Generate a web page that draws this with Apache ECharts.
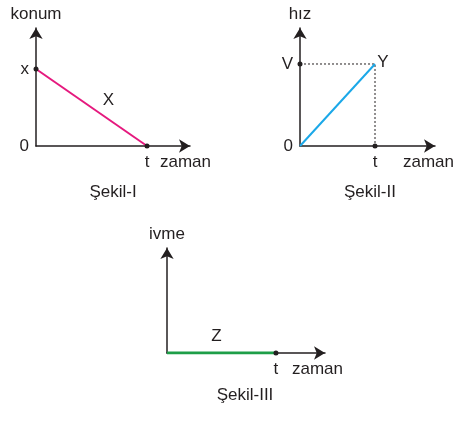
<!DOCTYPE html>
<html>
<head>
<meta charset="utf-8">
<script src="https://cdn.jsdelivr.net/npm/echarts@6/dist/echarts.min.js"></script>
<style>
  html, body { margin: 0; padding: 0; background: #fff; }
  #chart { width: 458px; height: 422px; }
</style>
</head>
<body>
<div id="chart"></div>
<script>
// Şekil-I : konum - zaman
var zaman1 = [0, 1];
var konum1 = [1, 0];
// Şekil-II : hız - zaman
var zaman2 = [0, 1];
var hiz2 = [0, 1];
// Şekil-III : ivme - zaman
var zaman3 = [0, 1];
var ivme3 = [0, 0];

var ink = '#231f20';
var font = 'Arial, "Liberation Sans", sans-serif';
var fs = 17;

function pairs(xs, ys) {
  return xs.map(function (x, i) { return [x, ys[i]]; });
}

function axisLine() {
  return {
    show: true,
    symbol: ['none', 'arrow'],
    symbolSize: [10, 11],
    lineStyle: { color: ink, width: 1.5 }
  };
}

function xAx(grid, max, name, gap) {
  return {
    type: 'value', gridIndex: grid, min: 0, max: max,
    axisLine: axisLine(), axisTick: { show: false }, splitLine: { show: false },
    axisLabel: {
      customValues: [1], formatter: function () { return 't'; },
      color: ink, fontSize: fs, fontFamily: font, margin: 8
    },
    name: name, nameLocation: 'end', nameGap: gap,
    nameTextStyle: { color: ink, fontSize: fs, fontFamily: font, verticalAlign: 'top', padding: [8, 0, 0, 0] }
  };
}

function yAx(grid, max, name, labels) {
  return {
    type: 'value', gridIndex: grid, min: 0, max: max,
    axisLine: axisLine(), axisTick: { show: false }, splitLine: { show: false },
    axisLabel: {
      show: !!labels,
      customValues: labels ? [0, 1] : [],
      formatter: function (v) { return labels ? labels[v] : ''; },
      color: ink, fontSize: fs, fontFamily: font, margin: 7
    },
    name: name, nameLocation: 'end', nameGap: 5,
    nameTextStyle: { color: ink, fontSize: fs, fontFamily: font, align: 'center' }
  };
}

var dot = { color: ink };
var t2 = zaman2[1], v2 = hiz2[1];
var t3 = zaman3[1];

var option = {
  animation: false,
  textStyle: { fontFamily: font },
  grid: [
    { left: 36, top: 28, width: 154, height: 118 },
    { left: 300, top: 28, width: 135, height: 118 },
    { left: 167, top: 248, width: 158, height: 105 }
  ],
  xAxis: [
    xAx(0, 1.387, 'zaman', -30),
    xAx(1, 1.8, 'zaman', -32),
    xAx(2, 1.45, 'zaman', -33)
  ],
  yAxis: [
    yAx(0, 1.532, 'konum', ['0', 'x']),
    yAx(1, 1.439, 'hız', ['0', 'V']),
    yAx(2, 1, 'ivme', null)
  ],
  series: [
    {
      type: 'line', xAxisIndex: 0, yAxisIndex: 0,
      data: pairs(zaman1, konum1),
      symbol: 'circle', symbolSize: 5, itemStyle: dot,
      lineStyle: { color: '#e5197e', width: 2 },
      markPoint: {
        symbol: 'circle', symbolSize: 0,
        data: [{ coord: [(zaman1[0] + zaman1[1]) / 2, (konum1[0] + konum1[1]) / 2] }],
        label: { show: true, formatter: 'X', color: ink, fontSize: fs, offset: [17, -7] }
      }
    },
    {
      type: 'line', xAxisIndex: 1, yAxisIndex: 1,
      data: [[0, v2], { value: [t2, v2], symbol: 'none' }, [t2, 0]],
      symbol: 'circle', symbolSize: 5, itemStyle: dot,
      lineStyle: { color: ink, width: 1, type: [2, 2] }
    },
    {
      type: 'line', xAxisIndex: 1, yAxisIndex: 1,
      data: pairs(zaman2, hiz2),
      symbol: 'none',
      lineStyle: { color: '#1ba8e8', width: 2 },
      markPoint: {
        symbol: 'circle', symbolSize: 0,
        data: [{ coord: [t2, v2] }],
        label: { show: true, formatter: 'Y', color: ink, fontSize: fs, offset: [8, -2] }
      }
    },
    {
      type: 'line', xAxisIndex: 2, yAxisIndex: 2,
      data: [{ value: [zaman3[0], ivme3[0]], symbol: 'none' }, [t3, ivme3[1]]],
      symbol: 'circle', symbolSize: 5, itemStyle: dot,
      lineStyle: { color: '#1e9e48', width: 3 },
      markPoint: {
        symbol: 'circle', symbolSize: 0,
        data: [{ coord: [t3 / 2, 0] }],
        label: { show: true, formatter: 'Z', color: ink, fontSize: fs, offset: [-5, -17] }
      }
    }
  ],
  graphic: [
    { type: 'text', x: 113, y: 192, style: { text: 'Şekil-I', fill: ink, font: fs + 'px ' + font, textAlign: 'center', textVerticalAlign: 'middle' } },
    { type: 'text', x: 370, y: 192, style: { text: 'Şekil-II', fill: ink, font: fs + 'px ' + font, textAlign: 'center', textVerticalAlign: 'middle' } },
    { type: 'text', x: 245, y: 395, style: { text: 'Şekil-III', fill: ink, font: fs + 'px ' + font, textAlign: 'center', textVerticalAlign: 'middle' } }
  ]
};

var chart = echarts.init(document.getElementById('chart'));
chart.setOption(option);
</script>
</body>
</html>
